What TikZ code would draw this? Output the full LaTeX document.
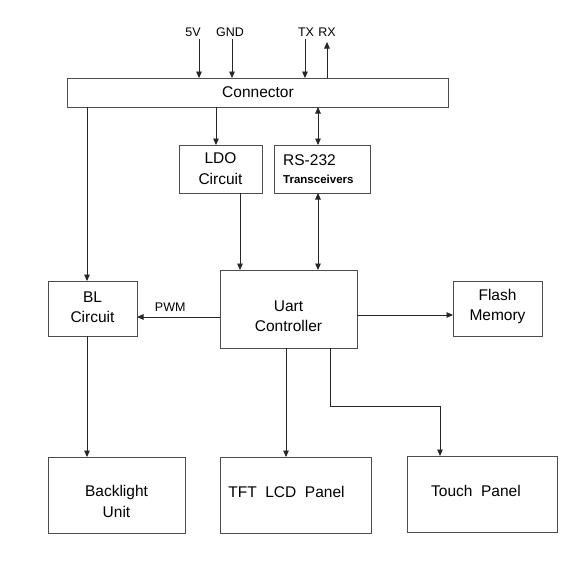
\documentclass[tikz,border=0pt]{standalone}
\usepackage{fontspec}
\setmainfont{Liberation Sans}
\usetikzlibrary{arrows.meta}
\begin{document}
\begin{tikzpicture}[x=1pt,y=-1pt,
 box/.style={draw=black!70,line width=0.8pt,inner sep=0pt,outer sep=0pt},
 txt/.style={align=center,inner sep=0pt,font=\fontsize{15.5}{20.5}\selectfont},
 arr/.style={draw=black!85,line width=0.9pt,-{Triangle[length=6.5pt,width=5.5pt]}},
 darr/.style={draw=black!85,line width=0.9pt,{Triangle[length=6.5pt,width=5.5pt]}-{Triangle[length=6.5pt,width=5.5pt]}},
 lbl/.style={inner sep=0pt,font=\fontsize{12.5}{14}\selectfont}]
\useasboundingbox (0,0) rectangle (586,566);
\fill[white] (0,0) rectangle (586,566);
% boxes
\node[box,minimum width=381pt,minimum height=29pt] (conn) at (257.5,92.5) {};
\node[txt] (connt) at (258,92.5) {Connector};
\node[box,minimum width=83pt,minimum height=48pt] (ldo) at (220.5,169) {};
\node[txt] (ldot) at (220.5,168.5) {LDO\\Circuit};
\node[box,minimum width=96pt,minimum height=48pt] (rs) at (322,169) {};
\node[txt,align=left,anchor=west] (rst) at (283,169) {RS-232\\[-2pt]{\bfseries\fontsize{11.5}{13}\selectfont Transceivers}};
\node[box,minimum width=137pt,minimum height=78pt] (uart) at (288.5,309) {};
\node[txt] (uartt) at (288.5,316) {Uart\\Controller};
\node[box,minimum width=89pt,minimum height=55pt] (bl) at (92.5,308.5) {};
\node[txt] (blt) at (92.5,307) {BL\\Circuit};
\node[box,minimum width=89pt,minimum height=55pt] (flash) at (497.5,308.5) {};
\node[txt] (flasht) at (497.5,306.5) {Flash\\Memory};
\node[box,minimum width=137pt,minimum height=76pt] (back) at (116.5,495) {};
\node[txt] (backt) at (116.5,501.5) {Backlight\\Unit};
\node[box,minimum width=151pt,minimum height=76pt] (tft) at (295.5,495) {};
\node[txt] (tftt) at (286.5,492) {TFT\ \ LCD\ \ Panel};
\node[box,minimum width=150pt,minimum height=76pt] (touch) at (482,494) {};
\node[txt] (toucht) at (476,491) {Touch\ \ Panel};
% top labels
\node[lbl] (v5) at (193,32) {5V};
\node[lbl] (gnd) at (230,32) {GND};
\node[lbl] (tx) at (306,32) {TX};
\node[lbl] (rx) at (327,32) {RX};
\coordinate (v5e) at (199,39);
\coordinate (gnde) at (232,39);
\coordinate (txe) at (305,39);
\coordinate (rxe) at (327,42);
\draw[arr] (v5e) -- (conn.north -| v5e);
\draw[arr] (gnde) -- (conn.north -| gnde);
\draw[arr] (txe) -- (conn.north -| txe);
\draw[arr] (conn.north -| rxe) -- (rxe);
% x helpers
\coordinate (xa) at (87,0);
\coordinate (xb) at (216,0);
\coordinate (xc) at (318,0);
\coordinate (xd) at (240,0);
\coordinate (xe) at (286,0);
\coordinate (xf) at (330,0);
\coordinate (xg) at (440,0);
\coordinate (yp) at (0,317);
\coordinate (yf) at (0,315);
\coordinate (yt) at (0,406);
\draw[arr] (conn.south -| xa) -- (bl.north -| xa);
\draw[arr] (conn.south -| xb) -- (ldo.north -| xb);
\draw[darr] (conn.south -| xc) -- (rs.north -| xc);
\draw[arr] (ldo.south -| xd) -- (uart.north -| xd);
\draw[darr] (rs.south -| xc) -- (uart.north -| xc);
\draw[arr] (uart.west |- yp) -- (bl.east |- yp) node[lbl,pos=0.6,above=5pt] (pwm) {PWM};
\draw[arr] (uart.east |- yf) -- (flash.west |- yf);
\draw[arr] (bl.south -| xa) -- (back.north -| xa);
\draw[arr] (uart.south -| xe) -- (tft.north -| xe);
\draw[arr] (uart.south -| xf) -- (xf |- yt) -- (xg |- yt) -- (touch.north -| xg);
\end{tikzpicture}
\end{document}
